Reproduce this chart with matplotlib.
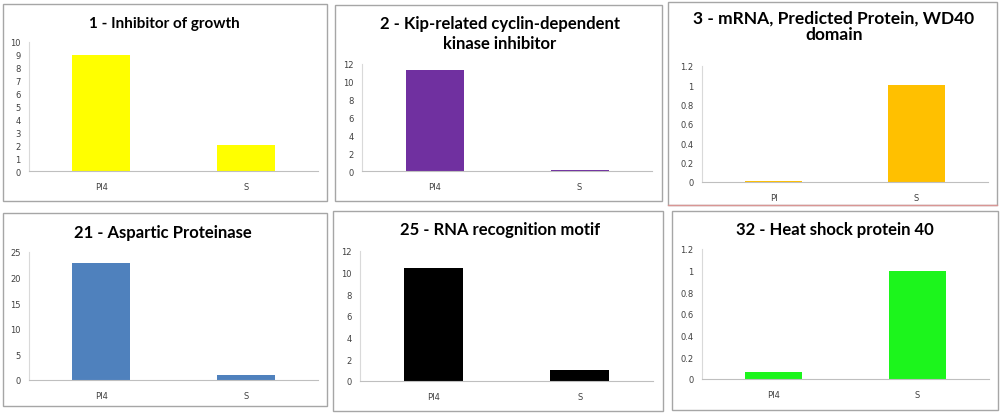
import matplotlib
matplotlib.use("Agg")
import matplotlib.pyplot as plt
from matplotlib.patches import Rectangle
from matplotlib.lines import Line2D

# data for each panel
titles = [
    "1 - Inhibitor of growth",
    "2 - Kip-related cyclin-dependent\nkinase inhibitor",
    "3 - mRNA, Predicted Protein, WD40\ndomain",
    "21 - Aspartic Proteinase",
    "25 - RNA recognition motif",
    "32 - Heat shock protein 40",
]
categories = [
    ["PI4", "S"],
    ["PI4", "S"],
    ["PI", "S"],
    ["PI4", "S"],
    ["PI4", "S"],
    ["PI4", "S"],
]
values = [
    [9, 2],
    [11.3, 0.1],
    [0.01, 1.0],
    [22.9, 1.0],
    [10.4, 1.0],
    [0.065, 1.0],
]
y_ticks = [
    [0, 1, 2, 3, 4, 5, 6, 7, 8, 9, 10],
    [0, 2, 4, 6, 8, 10, 12],
    [0, 0.2, 0.4, 0.6, 0.8, 1, 1.2],
    [0, 5, 10, 15, 20, 25],
    [0, 2, 4, 6, 8, 10, 12],
    [0, 0.2, 0.4, 0.6, 0.8, 1, 1.2],
]
colors = ["#FFFF00", "#7030A0", "#FFC000", "#4F81BD", "#000000", "#1CF51C"]

W, H = 1000, 414

# layout in pixels: panel frame, axes box, title centre, title size
frames = [(3, 5, 327, 202), (335, 6, 662, 202), (668, 3, 997, 206),
          (3, 214, 327, 407), (333, 212, 663, 412), (672, 212, 998, 411)]
axboxes = [(29, 43, 318, 172), (362, 65, 652, 172), (702, 67, 988, 183),
           (29, 253, 318, 381), (360, 252, 653, 382), (702, 250, 989, 380)]
title_pos = [(164, 24), (500, 34), (834, 27), (163, 233), (500, 230), (835, 230)]
title_size = [11, 12, 12.5, 12, 12, 12]
title_spacing = [1.0, 1.25, 1.0, 1.0, 1.0, 1.0]


def fig_box(x0, y0, x1, y1):
    return [x0 / W, 1 - y1 / H, (x1 - x0) / W, (y1 - y0) / H]


fig = plt.figure(figsize=(W / 100, H / 100), dpi=100)
fig.patch.set_facecolor("white")

for i in range(6):
    # panel frame
    fx0, fy0, fx1, fy1 = frames[i]
    fig.patches.append(Rectangle((fx0 / W, 1 - fy1 / H), (fx1 - fx0) / W, (fy1 - fy0) / H,
                                 transform=fig.transFigure, fill=False,
                                 edgecolor="#A6A6A6", linewidth=1.0))

    ax = fig.add_axes(fig_box(*axboxes[i]))
    ax.bar(range(2), values[i], width=0.4, color=colors[i])
    ax.set_xlim(-0.5, 1.5)
    ax.set_ylim(0, y_ticks[i][-1])
    ax.set_yticks(y_ticks[i])
    ax.set_yticklabels([f"{t:g}" for t in y_ticks[i]])
    ax.set_xticks(range(2))
    ax.set_xticklabels(categories[i])
    ax.tick_params(length=0, labelsize=6, colors="#404040", pad=6)
    ax.tick_params(axis="x", pad=8)
    for s in ["top", "right"]:
        ax.spines[s].set_visible(False)
    ax.spines["left"].set_color("#D9D9D9")
    ax.spines["bottom"].set_color("#BFBFBF")

    tx, ty = title_pos[i]
    fig.text(tx / W, 1 - ty / H, titles[i], ha="center", va="center",
             fontsize=title_size[i], fontweight="bold", family="Lato",
             linespacing=title_spacing[i], color="#000000")

# reddish bottom edge under panel 3
fx0, fy0, fx1, fy1 = frames[2]
fig.lines.append(Line2D([fx0 / W, fx1 / W], [1 - fy1 / H, 1 - fy1 / H],
                        transform=fig.transFigure, color="#D99694", linewidth=1.0))

fig.savefig("out.png", dpi=100)
